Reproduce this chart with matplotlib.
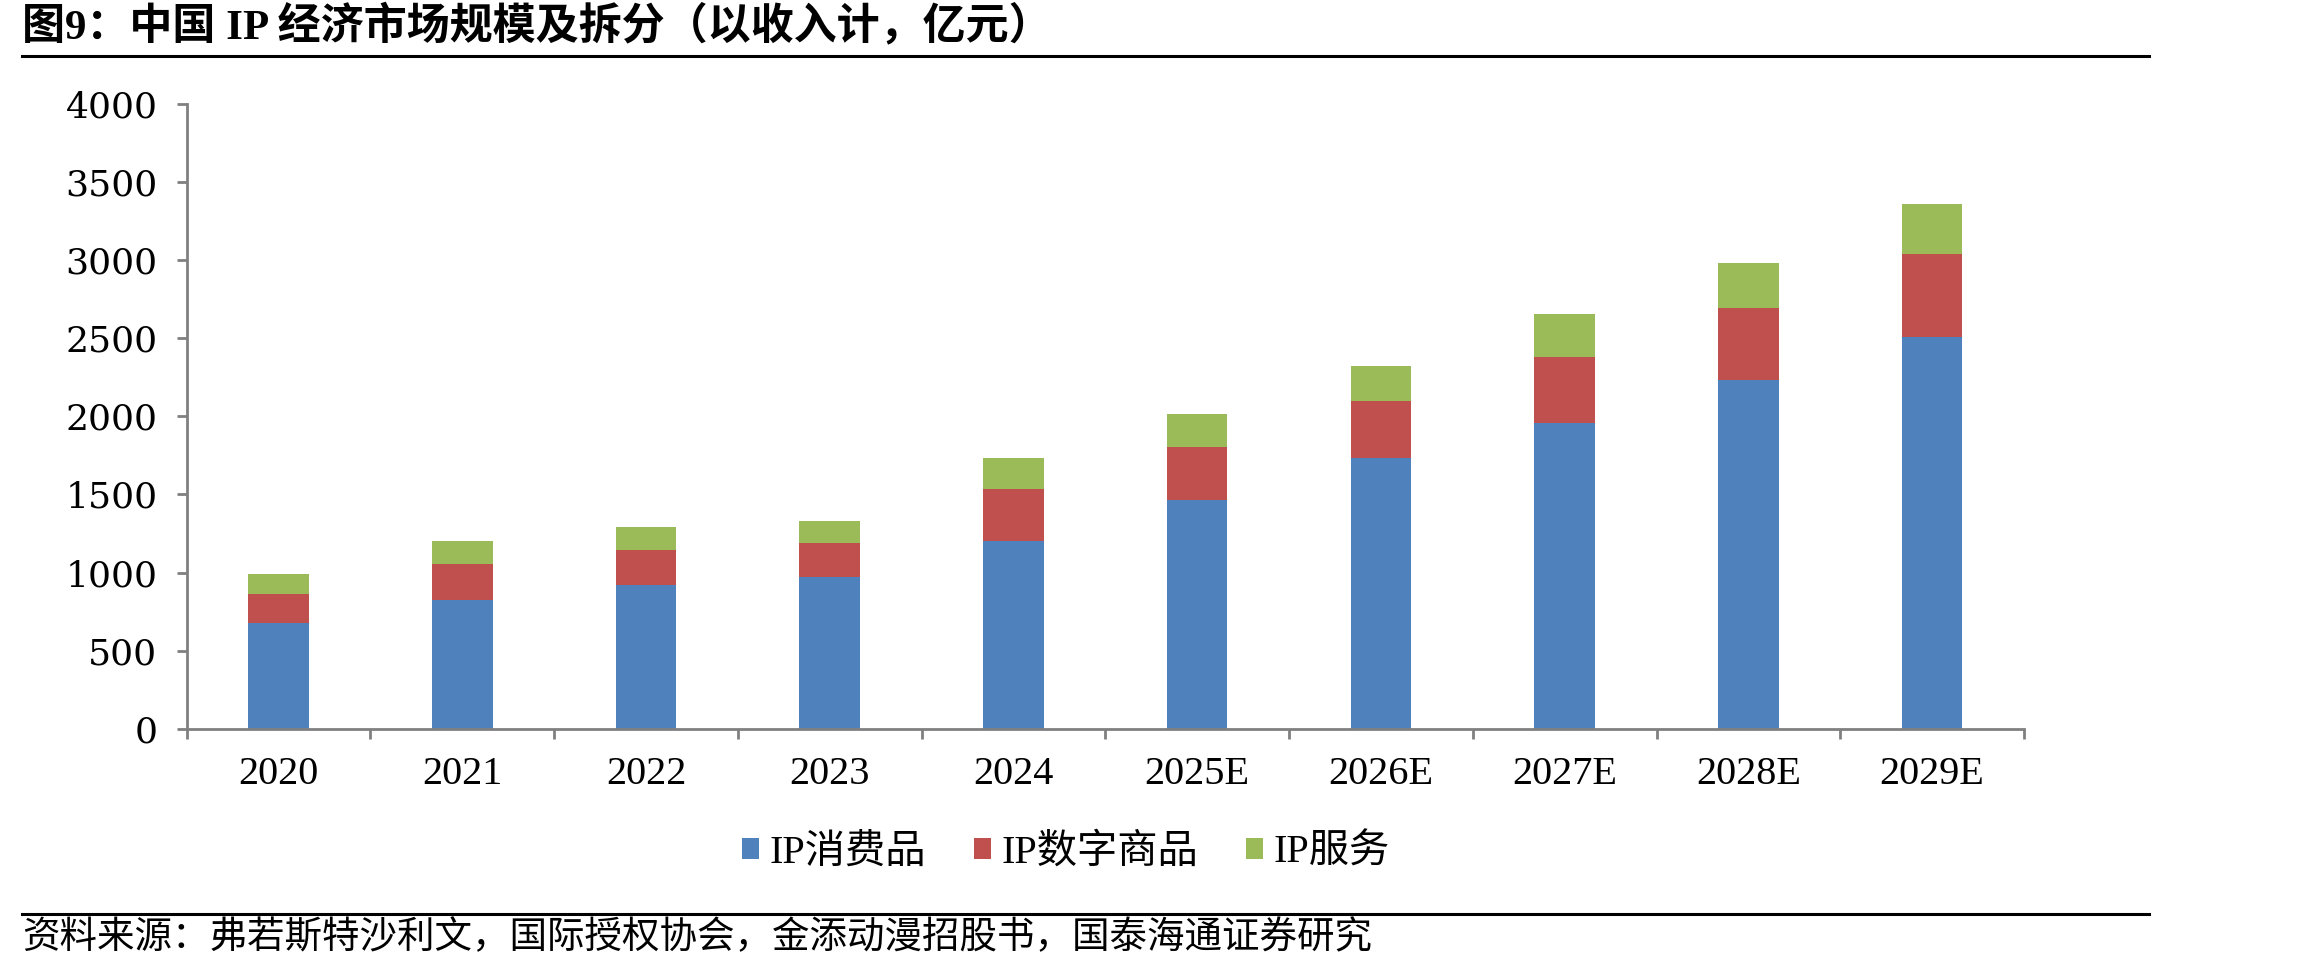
import matplotlib
matplotlib.use('Agg')
import matplotlib.pyplot as plt
import numpy as np

plt.rcParams["font.family"] = ["Liberation Serif", "Noto Sans CJK SC"]
plt.rcParams["axes.unicode_minus"] = False

# 数据（亿元）
years = ["2020", "2021", "2022", "2023", "2024", "2025E", "2026E", "2027E", "2028E", "2029E"]
consumer = [675, 825, 920, 970, 1205, 1465, 1735, 1955, 2235, 2510]   # IP消费品
digital = [188, 230, 225, 220, 327, 341, 363, 428, 462, 530]          # IP数字商品
service = [125, 148, 148, 137, 204, 211, 228, 273, 286, 324]          # IP服务
series_names = ["IP消费品", "IP数字商品", "IP服务"]
colors = ["#4F81BD", "#C0504D", "#9BBB59"]

W, H = 2303, 973
fig = plt.figure(figsize=(W / 100, H / 100), dpi=100)
ax = fig.add_axes([186.6 / W, 1 - 728.6 / H, (2024 - 186.6) / W, (728.6 - 104.3) / H])

x = np.arange(len(years))
bw = 0.33
bottom = np.zeros(len(years))
for vals, name, c in zip([consumer, digital, service], series_names, colors):
    ax.bar(x, vals, bw, bottom=bottom, color=c, label=name, edgecolor="none")
    bottom += np.array(vals)

ax.set_xlim(-0.5, len(years) - 0.5)
ax.set_ylim(0, 4000)
ax.set_yticks(range(0, 4001, 500))
ax.set_xticks(x)
ax.set_xticklabels(years)
ax.set_xticks(np.arange(-0.5, len(years), 1), minor=True)

for s in ["top", "right"]:
    ax.spines[s].set_visible(False)
for s in ["left", "bottom"]:
    ax.spines[s].set_color("#808080")
    ax.spines[s].set_linewidth(2)

ax.tick_params(axis="y", which="major", direction="out", length=7, width=2,
               color="#808080", labelsize=26, pad=14)
for lab in ax.get_yticklabels():
    lab.set_family(["DejaVu Serif"])
ax.tick_params(axis="x", which="major", length=0, labelsize=29, pad=20)
ax.tick_params(axis="x", which="minor", direction="out", length=7, width=2,
               color="#808080")

# 图例
fig.legend(loc="center", bbox_to_anchor=(1066 / W, 1 - 853 / H), ncol=3,
           frameon=False, fontsize=29, handlelength=0.42, handleheight=0.42,
           handletextpad=0.25, columnspacing=1.2)

# 标题与来源
fig.text(22 / W, 1 - 26 / H, "图9：中国 IP 经济市场规模及拆分（以收入计，亿元）",
         fontsize=31, fontweight="bold", ha="left", va="center")
fig.add_artist(plt.Line2D([22 / W, 2149 / W], [1 - 56 / H, 1 - 56 / H],
                          color="black", linewidth=2.2))
fig.add_artist(plt.Line2D([22 / W, 2149 / W], [1 - 914 / H, 1 - 914 / H],
                          color="black", linewidth=2.2))
fig.text(22 / W, 1 - 938 / H,
         "资料来源：弗若斯特沙利文，国际授权协会，金添动漫招股书，国泰海通证券研究",
         fontsize=27, ha="left", va="center")

plt.savefig("out.png", dpi=100)
